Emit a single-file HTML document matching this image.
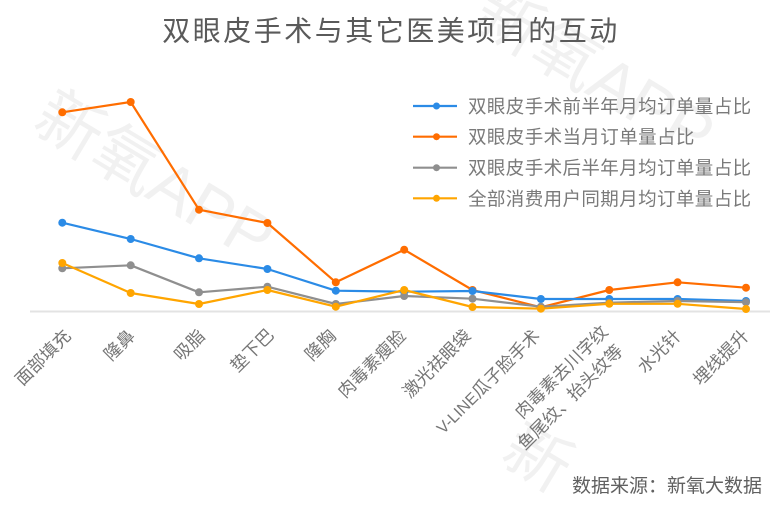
<!DOCTYPE html>
<html>
<head>
<meta charset="utf-8">
<style>
html,body{margin:0;padding:0;background:#fff;width:779px;height:514px;overflow:hidden;}
svg{display:block;}
text{font-family:"Liberation Sans","Noto Sans CJK SC",sans-serif;}
</style>
</head>
<body>
<svg width="779" height="514" viewBox="0 0 779 514" xmlns="http://www.w3.org/2000/svg">
  <rect width="779" height="514" fill="#ffffff"/>
  <!-- watermarks -->
  <g fill="#f1f1f1" font-size="66">
    <text transform="translate(30,128) rotate(31)">新氧APP</text>
    <text transform="translate(470,24) rotate(31)">新氧APP</text>
    <text transform="translate(498,460) rotate(31)">新</text>
  </g>

  <!-- title -->
  <text x="391" y="40.5" font-size="28" letter-spacing="2.5" text-anchor="middle" fill="#5a5a5a">双眼皮手术与其它医美项目的互动</text>

  <!-- axis line -->
  <line x1="30" y1="311.5" x2="770" y2="311.5" stroke="#e3e3e3" stroke-width="2"/>

  <!-- series -->
  <g fill="none" stroke-width="2.2" stroke-linejoin="round">
    <polyline stroke="#ff6d00" points="62.3,112.3 130.7,102 199,209.7 267.4,223 335.8,282.3 404.2,249.7 472.5,290 540.9,307.3 609.3,290 677.6,282.3 746,287.7"/>
    <polyline stroke="#2b8be6" points="62.3,222.7 130.7,239 199,258.3 267.4,269 335.8,290.7 404.2,291.7 472.5,291 540.9,299 609.3,299 677.6,299 746,301"/>
    <polyline stroke="#8f8f8f" points="62.3,268.3 130.7,265.3 199,292.3 267.4,286.7 335.8,304 404.2,296 472.5,298.7 540.9,306.7 609.3,302.7 677.6,301 746,302.2"/>
    <polyline stroke="#ffa500" points="62.3,263 130.7,293 199,304 267.4,290 335.8,306.7 404.2,290 472.5,307 540.9,308.7 609.3,303.8 677.6,303.8 746,309"/>
  </g>
  <g fill="#ff6d00">
    <circle cx="62.3" cy="112.3" r="4"/><circle cx="130.7" cy="102" r="4"/><circle cx="199" cy="209.7" r="4"/><circle cx="267.4" cy="223" r="4"/><circle cx="335.8" cy="282.3" r="4"/><circle cx="404.2" cy="249.7" r="4"/><circle cx="472.5" cy="290" r="4"/><circle cx="540.9" cy="307.3" r="4"/><circle cx="609.3" cy="290" r="4"/><circle cx="677.6" cy="282.3" r="4"/><circle cx="746" cy="287.7" r="4"/>
  </g>
  <g fill="#2b8be6">
    <circle cx="62.3" cy="222.7" r="4"/><circle cx="130.7" cy="239" r="4"/><circle cx="199" cy="258.3" r="4"/><circle cx="267.4" cy="269" r="4"/><circle cx="335.8" cy="290.7" r="4"/><circle cx="404.2" cy="291.7" r="4"/><circle cx="472.5" cy="291" r="4"/><circle cx="540.9" cy="299" r="4"/><circle cx="609.3" cy="299" r="4"/><circle cx="677.6" cy="299" r="4"/><circle cx="746" cy="301" r="4"/>
  </g>
  <g fill="#8f8f8f">
    <circle cx="62.3" cy="268.3" r="4"/><circle cx="130.7" cy="265.3" r="4"/><circle cx="199" cy="292.3" r="4"/><circle cx="267.4" cy="286.7" r="4"/><circle cx="335.8" cy="304" r="4"/><circle cx="404.2" cy="296" r="4"/><circle cx="472.5" cy="298.7" r="4"/><circle cx="540.9" cy="306.7" r="4"/><circle cx="609.3" cy="302.7" r="4"/><circle cx="677.6" cy="301" r="4"/><circle cx="746" cy="302.2" r="4"/>
  </g>
  <g fill="#ffa500">
    <circle cx="62.3" cy="263" r="4"/><circle cx="130.7" cy="293" r="4"/><circle cx="199" cy="304" r="4"/><circle cx="267.4" cy="290" r="4"/><circle cx="335.8" cy="306.7" r="4"/><circle cx="404.2" cy="290" r="4"/><circle cx="472.5" cy="307" r="4"/><circle cx="540.9" cy="308.7" r="4"/><circle cx="609.3" cy="303.8" r="4"/><circle cx="677.6" cy="303.8" r="4"/><circle cx="746" cy="309" r="4"/>
  </g>

  <!-- legend -->
  <g stroke-width="2.2">
    <line x1="413" y1="106" x2="457" y2="106" stroke="#2b8be6"/>
    <line x1="413" y1="136.7" x2="457" y2="136.7" stroke="#ff6d00"/>
    <line x1="413" y1="167.7" x2="457" y2="167.7" stroke="#8f8f8f"/>
    <line x1="413" y1="198.3" x2="457" y2="198.3" stroke="#ffa500"/>
  </g>
  <circle cx="436.5" cy="106" r="3.5" fill="#2b8be6"/>
  <circle cx="436.5" cy="136.7" r="3.5" fill="#ff6d00"/>
  <circle cx="436.5" cy="167.7" r="3.5" fill="#8f8f8f"/>
  <circle cx="436.5" cy="198.3" r="3.5" fill="#ffa500"/>
  <g font-size="18.5" letter-spacing="0.4" fill="#7a7a7a">
    <text x="468" y="113">双眼皮手术前半年月均订单量占比</text>
    <text x="468" y="143.7">双眼皮手术当月订单量占比</text>
    <text x="468" y="174.7">双眼皮手术后半年月均订单量占比</text>
    <text x="468" y="205.3">全部消费用户同期月均订单量占比</text>
  </g>

  <!-- x labels -->
  <g font-size="17.5" fill="#767676" text-anchor="end">
    <text transform="translate(72,337) rotate(-45)">面部填充</text>
    <text transform="translate(136,337) rotate(-45)">隆鼻</text>
    <text transform="translate(206,337) rotate(-45)">吸脂</text>
    <text transform="translate(275,336) rotate(-45)">垫下巴</text>
    <text transform="translate(337,337) rotate(-45)">隆胸</text>
    <text transform="translate(407,337) rotate(-45)">肉毒素瘦脸</text>
    <text transform="translate(472,337) rotate(-45)">激光祛眼袋</text>
    <text transform="translate(541,337) rotate(-45)"><tspan font-size="16">V-LINE</tspan>瓜子脸手术</text>
    <text transform="translate(609,333) rotate(-45)">肉毒素去川字纹</text>
    <text transform="translate(624,352) rotate(-45)">鱼尾纹、抬头纹等</text>
    <text transform="translate(682,337) rotate(-45)">水光针</text>
    <text transform="translate(750,337) rotate(-45)">埋线提升</text>
  </g>

  <!-- source -->
  <text x="762" y="492" font-size="19" text-anchor="end" fill="#606060">数据来源：新氧大数据</text>
</svg>
</body>
</html>
